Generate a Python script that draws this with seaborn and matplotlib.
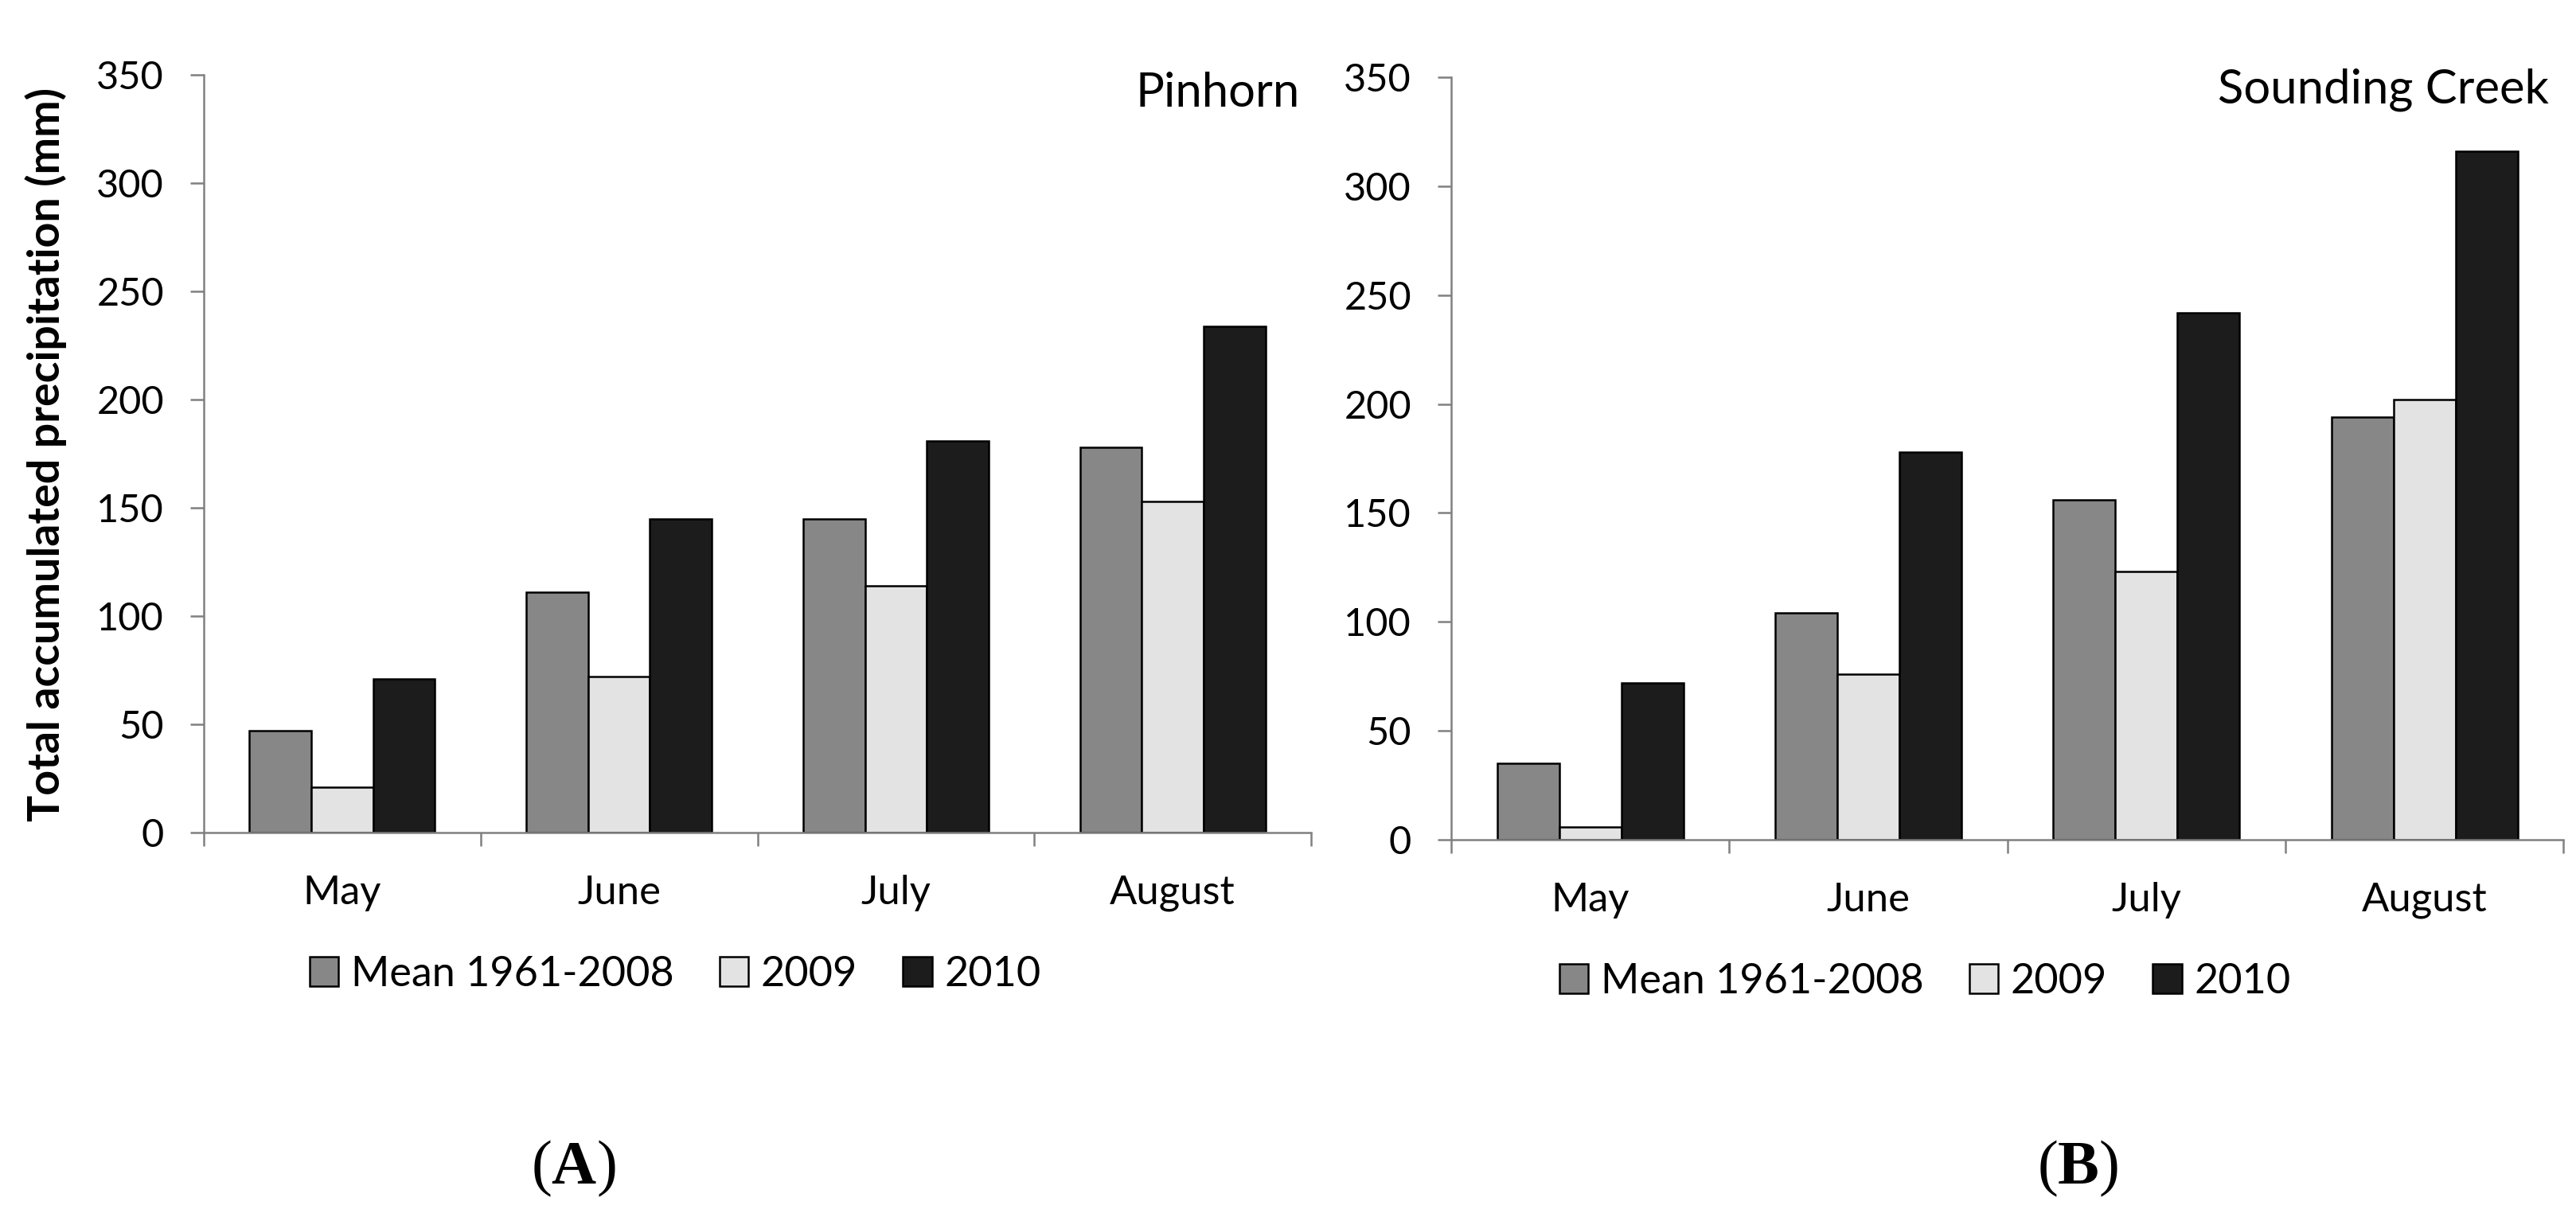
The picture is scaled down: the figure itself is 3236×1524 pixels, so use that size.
import numpy as np
import pandas as pd
import matplotlib
matplotlib.use("Agg")
import matplotlib.pyplot as plt
from matplotlib.ticker import FixedLocator, NullFormatter
import seaborn as sns

months = ["May", "June", "July", "August"]
series_names = ["Mean 1961-2008", "2009", "2010"]

pinhorn_mean = [47, 111, 145, 178]
pinhorn_2009 = [21, 72, 114, 153]
pinhorn_2010 = [71, 145, 181, 234]

sounding_mean = [35, 104, 156, 194]
sounding_2009 = [6, 76, 123, 202]
sounding_2010 = [72, 178, 242, 316]

y_ticks = [0, 50, 100, 150, 200, 250, 300, 350]

bar_colors = {"Mean 1961-2008": "#878787", "2009": "#e3e3e3", "2010": "#1c1c1c"}
axis_grey = "#808080"
FS = 35


def long_frame(mean, y2009, y2010):
    rows = []
    for name, vals in zip(series_names, [mean, y2009, y2010]):
        for m, v in zip(months, vals):
            rows.append({"month": m, "series": name, "value": v})
    return pd.DataFrame(rows)


def draw_panel(ax, df, title, title_xy, legend_xy):
    sns.barplot(data=df, x="month", y="value", hue="series", order=months,
                hue_order=series_names, palette=bar_colors, saturation=1,
                width=0.67, gap=0, edgecolor="black", linewidth=1.8, ax=ax)
    ax.set_xlim(-0.5, 3.5)
    ax.set_ylim(0, 350)
    ax.set_yticks(y_ticks)
    ax.set_xlabel("")
    ax.set_ylabel("")
    for side in ["top", "right"]:
        ax.spines[side].set_visible(False)
    for side in ["left", "bottom"]:
        ax.spines[side].set_color(axis_grey)
        ax.spines[side].set_linewidth(1.8)
    ax.tick_params(axis="y", which="major", direction="out", length=12, width=1.8,
                   color=axis_grey, labelcolor="black", labelsize=FS, pad=24, left=True)
    ax.tick_params(axis="x", which="major", length=0, labelsize=36.5,
                   labelcolor="black", pad=38)
    # category boundaries carry the tick marks, as in the original
    ax.xaxis.set_minor_locator(FixedLocator([-0.5, 0.5, 1.5, 2.5, 3.5]))
    ax.xaxis.set_minor_formatter(NullFormatter())
    ax.tick_params(axis="x", which="minor", direction="out", length=12, width=1.8,
                   color=axis_grey, bottom=True)
    ax.text(title_xy[0], title_xy[1], title, transform=ax.transAxes,
            ha="right", va="center", fontsize=43, color="black")
    handles, labels = ax.get_legend_handles_labels()
    ax.legend(handles, labels, loc="center", bbox_to_anchor=legend_xy, ncol=3,
              frameon=False, fontsize=37.5, handlelength=0.7, handleheight=0.7,
              handletextpad=0.3, columnspacing=1.1, labelcolor="black")


sns.set_theme(style="white")
plt.rcParams["font.family"] = ["Lato", "DejaVu Sans"]
plt.rcParams["text.color"] = "black"
plt.rcParams["mathtext.fontset"] = "custom"
plt.rcParams["mathtext.rm"] = "Liberation Serif"
plt.rcParams["mathtext.bf"] = "Liberation Serif:bold"

fig = plt.figure(figsize=(32.37, 15.24), dpi=100)
ax_a = fig.add_axes([0.0791, 0.3136, 0.4297, 0.6247])
ax_b = fig.add_axes([0.5632, 0.3077, 0.4316, 0.6286])

draw_panel(ax_a, long_frame(pinhorn_mean, pinhorn_2009, pinhorn_2010),
           "Pinhorn", (0.990, 0.976), (0.4256, -0.187))
draw_panel(ax_b, long_frame(sounding_mean, sounding_2009, sounding_2010),
           "Sounding Creek", (0.987, 0.984), (0.426, -0.186))

fig.text(58 / 3237, 1 - 571 / 1524, "Total accumulated precipitation (mm)",
         rotation=90, ha="center", va="center", fontsize=40, fontweight="bold",
         color="black")

fig.text(720 / 3237, 1 - 1468 / 1524, r"($\mathbf{A}$)", ha="center", va="center",
         fontsize=56, family="Liberation Serif", color="black")
fig.text(2610 / 3237, 1 - 1468 / 1524, r"($\mathbf{B}$)", ha="center", va="center",
         fontsize=56, family="Liberation Serif", color="black")

fig.savefig("out.png", dpi=100, facecolor="white")
